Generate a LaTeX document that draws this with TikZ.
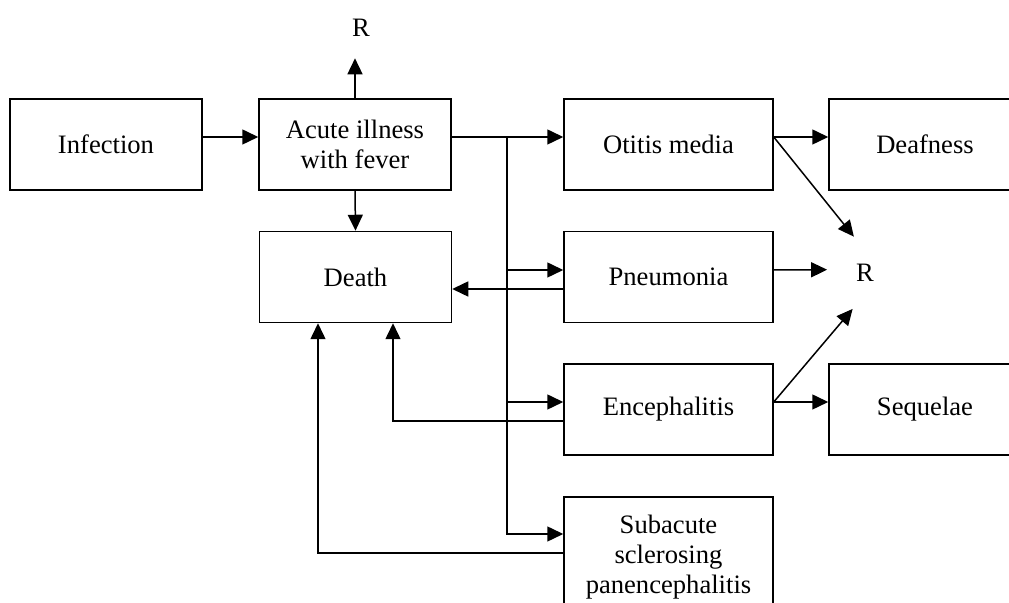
\documentclass[tikz,border=0pt]{standalone}
\usepackage{fontspec}
\setmainfont{Liberation Serif}
\usetikzlibrary{arrows.meta}

\tikzset{
  box/.style={draw, line width=0.75pt, minimum width=96pt, minimum height=45.5pt, inner sep=0pt, align=center},
  wbox/.style={box, minimum width=104.5pt},
  rlabel/.style={circle, minimum size=38pt, inner sep=0pt, outer sep=0pt},
  arr/.style={-{Triangle[length=8pt,width=7.5pt]}, line width=0.75pt}
}

\begin{document}
\begin{tikzpicture}[x=0.5pt, y=-0.5pt, font=\fontsize{13.3}{15}\selectfont]
  % Fix the page and cut the boxes at its edges
  \useasboundingbox (0,0) rectangle (1009,603);
  \clip (0,0) rectangle (1009,603);

  % Draw the boxes
  \node[box] (inf) at (106,144.5) {Infection};
  \node[box] (acute) at (355,144.5) {Acute illness\\with fever};
  \node[box] (death) at (355.5,277) {Death};
  \node[wbox] (otitis) at (668.5,144.5) {Otitis media};
  \node[box] (deaf) at (925,144.5) {Deafness};
  \node[wbox] (pneu) at (668.5,277) {Pneumonia};
  \node[wbox] (enc) at (668.5,409.5) {Encephalitis};
  \node[box] (seq) at (925,409.5) {Sequelae};
  \node[wbox, minimum height=60pt] (sspe) at (668.5,557) {Subacute\\sclerosing\\panencephalitis};

  % The two R labels
  \node[inner ysep=10.6pt] (rtop) at (361,28) {R};
  \node[rlabel] (rright) at (865,273) {R};

  % First row
  \draw[arr] ([yshift=3.75pt]inf.east) -- ([yshift=3.75pt]acute.west);
  \draw[arr] (acute.north) -- (acute.north |- rtop.south);
  \draw[arr] (acute.south) -- (death.north);

  % Trunk to the complications
  \coordinate (trunk) at (507,137);
  \draw[arr] ([yshift=3.75pt]acute.east) -- ([yshift=3.75pt]otitis.west);
  \draw[arr] (trunk) |- ([yshift=3.5pt]pneu.west);
  \draw[arr] (trunk) |- ([yshift=3.75pt]enc.west);
  \draw[arr] (trunk) |- ([yshift=11.5pt]sspe.west);

  % Back to death
  \draw[arr] ([yshift=-6pt]pneu.west) -- ([yshift=-6pt]death.east);
  \draw[arr] ([yshift=-5.75pt]enc.west) -| ([xshift=18.75pt]death.south);
  \draw[arr] ([yshift=2pt]sspe.west) -| ([xshift=-18.75pt]death.south);

  % Right hand side
  \draw[arr] ([yshift=3.75pt]otitis.east) -- ([yshift=3.75pt]deaf.west);
  \draw[arr] ([yshift=3.75pt]otitis.east) -- (rright.107);
  \draw[arr] ([yshift=3.5pt]pneu.east) -- (rright.175);
  \draw[arr] ([yshift=3.75pt]enc.east) -- ([yshift=3.75pt]seq.west);
  \draw[arr] ([yshift=3.75pt]enc.east) -- (rright.251);
\end{tikzpicture}
\end{document}
